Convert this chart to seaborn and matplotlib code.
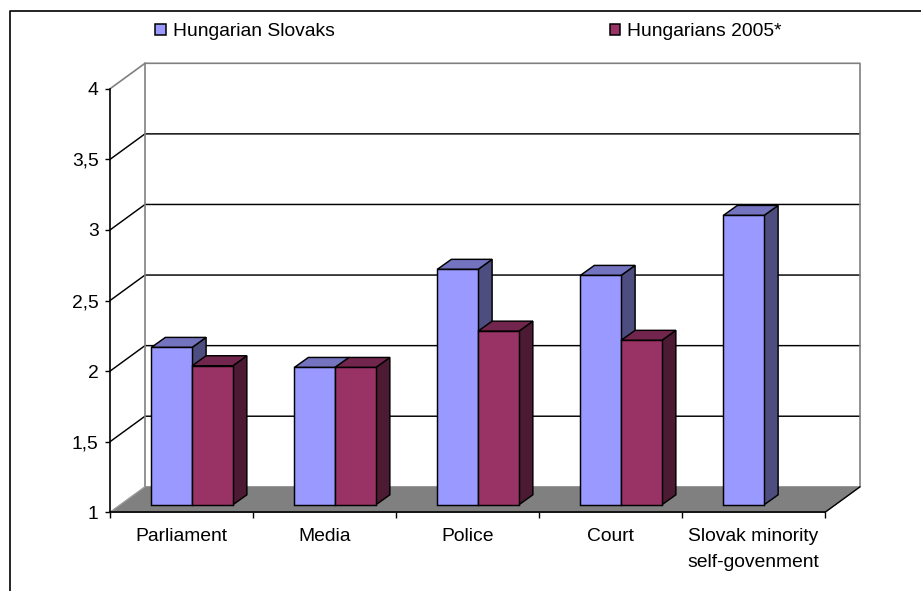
import numpy as np
import pandas as pd
import matplotlib
matplotlib.use("Agg")
import matplotlib.pyplot as plt
from matplotlib.lines import Line2D
from matplotlib.patches import Polygon, Patch
import seaborn as sns

categories = ["Parliament", "Media", "Police", "Court", "Slovak minority\nself-govenment"]
slovaks = [2.115, 1.973, 2.668, 2.625, 3.05]
hungarians = [1.985, 1.973, 2.23, 2.165, np.nan]
series_names = ["Hungarian Slovaks", "Hungarians 2005*"]
y_ticks = [1, 1.5, 2, 2.5, 3, 3.5, 4]
y_labels = ["1", "1,5", "2", "2,5", "3", "3,5", "4"]

W, H = 921, 591
sns.set_theme(style="white")
plt.rcParams["font.family"] = ["Liberation Sans", "DejaVu Sans"]

df = pd.DataFrame({
    "category": categories * 2,
    "series": [series_names[0]] * 5 + [series_names[1]] * 5,
    "value": slovaks + hungarians,
})

colors = {series_names[0]: "#9999FF", series_names[1]: "#993366"}
side_colors = ["#4D4D80", "#4D1A33"]
top_colors = ["#7373C0", "#73264D"]
FS = 13.9

fig = plt.figure(figsize=(W / 100, H / 100), dpi=100, facecolor="white")
L, R, T, B = 110, 825, 88.8, 512.3
ax = fig.add_axes([L / W, 1 - B / H, (R - L) / W, (B - T) / H])

sns.barplot(data=df, x="category", y="value", hue="series", palette=colors, order=categories,
            hue_order=series_names, width=0.57, gap=0, saturation=1, edgecolor="black",
            linewidth=1.05, ax=ax, legend=True)

ax.set_xlim(-0.5, 4.5)
ax.set_ylim(1, 4)
px = 5 / (R - L)            # data x per pixel
py = 3 / (B - T)            # data y per pixel
wall_dx, wall_dy = 35 * px, 25.5 * py
bar_dx, bar_dy = 10.6 * px, 7.5 * py
depth_dx, depth_dy = 14 * px, 10 * py

# Floor and back wall
x0, x1 = -0.5, 4.5
ax.add_patch(Polygon([(x0, 1), (x1, 1), (x1 + wall_dx, 1 + wall_dy), (x0 + wall_dx, 1 + wall_dy)],
                     closed=True, fc="#808080", ec="#808080", lw=0.8, clip_on=False, zorder=1))
ax.add_line(Line2D([x1, x1 + wall_dx], [1, 1 + wall_dy], color="black", lw=1.0, clip_on=False, zorder=1.5))
for t in y_ticks[1:-1]:
    ax.add_line(Line2D([x0, x0 + wall_dx, x1 + wall_dx], [t, t + wall_dy, t + wall_dy],
                       color="black", lw=1.05, clip_on=False, zorder=1.2))
ax.add_line(Line2D([x0, x0 + wall_dx, x1 + wall_dx, x1 + wall_dx],
                   [4, 4 + wall_dy, 4 + wall_dy, 1 + wall_dy], color="#808080", lw=1.2,
                   clip_on=False, zorder=1.3))
ax.add_line(Line2D([x0 + wall_dx, x0 + wall_dx], [1 + wall_dy, 4 + wall_dy], color="#808080", lw=1.2,
                   clip_on=False, zorder=1.3))
ax.add_line(Line2D([x0, x0 + wall_dx], [1, 1 + wall_dy], color="#A0A0A0", lw=0.8, clip_on=False, zorder=1.4))

# Extrude the seaborn bars into 3D boxes
for i, cont in enumerate(ax.containers):
    z = 3 + i
    for p in cont.patches:
        v = p.get_height()
        if not np.isfinite(v):
            continue
        xl = p.get_x() + bar_dx
        w = p.get_width()
        yb = 1 + bar_dy
        yt = v + bar_dy
        p.set_x(xl)
        p.set_y(yb)
        p.set_height(yt - yb)
        p.set_zorder(z + 0.2)
        p.set_clip_on(False)
        xr = xl + w
        ax.add_patch(Polygon([(xr, yb), (xr + depth_dx, yb + depth_dy), (xr + depth_dx, yt + depth_dy), (xr, yt)],
                             closed=True, fc=side_colors[i], ec="black", lw=1.05, clip_on=False, zorder=z))
        ax.add_patch(Polygon([(xl, yt), (xr, yt), (xr + depth_dx, yt + depth_dy), (xl + depth_dx, yt + depth_dy)],
                             closed=True, fc=top_colors[i], ec="black", lw=1.05, clip_on=False, zorder=z + 0.1))

# Axes
ax.patch.set_alpha(0)
for s in ["top", "right"]:
    ax.spines[s].set_visible(False)
for s in ["left", "bottom"]:
    ax.spines[s].set_color("black")
    ax.spines[s].set_linewidth(1.2)
    ax.spines[s].set_zorder(2)
ax.set_xlabel("")
ax.set_ylabel("")
ax.set_yticks(y_ticks, y_labels)
ax.tick_params(axis="y", which="major", left=True, length=3.6, width=1, color="black",
               labelsize=FS, labelcolor="black", pad=4.6)
ax.set_xticks(range(5), categories)
ax.set_xticks(np.arange(-0.5, 5, 1), minor=True)
ax.tick_params(axis="x", which="major", bottom=False, labelsize=FS, labelcolor="black", pad=5.5)
ax.tick_params(axis="x", which="minor", bottom=True, length=4.3, width=1, color="black")
for lab in ax.get_xticklabels():
    lab.set_linespacing(1.66)

# Legend
ax.get_legend().remove()
new_handles = [Patch(fc=colors[n], ec="black", lw=1.1) for n in series_names]
fig.legend(new_handles, series_names, ncols=2, frameon=False, loc="center left",
           bbox_to_anchor=(155 / W, 1 - 32 / H), fontsize=FS, handlelength=0.55, handleheight=0.55,
           handletextpad=0.36, columnspacing=14.25, labelcolor="black", borderaxespad=0, borderpad=0)

# Outer frame: only the top and left edges are in view
fig.add_artist(Line2D([10 / W, 10 / W, 1], [0, 1 - 10.5 / H, 1 - 10.5 / H], color="black", lw=1.2,
                      transform=fig.transFigure))

fig.savefig("out.png", dpi=100, facecolor="white")
